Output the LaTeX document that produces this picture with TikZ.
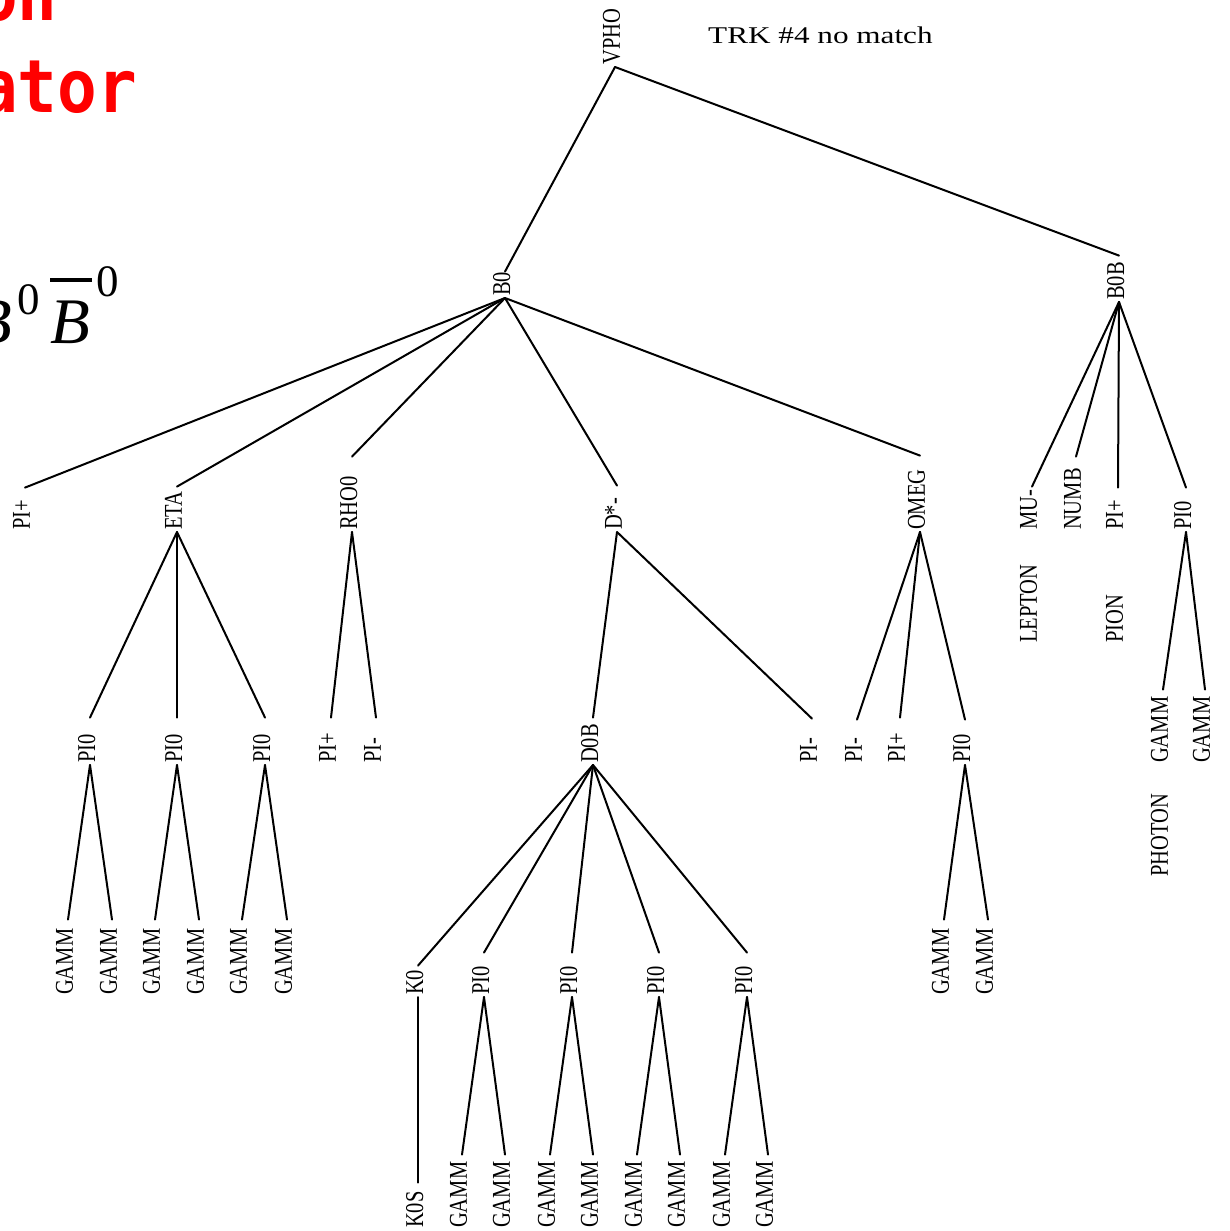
\documentclass[tikz,border=0pt]{standalone}
\usepackage{fontspec}
\setmainfont{Liberation Serif}
\newfontfamily\redfont{DejaVu Sans Mono}
\usepackage{graphicx}
\newcommand\lbl[1]{\rule[-7pt]{0pt}{17pt}\scalebox{1}[1.25]{#1}}
\tikzset{
  lab/.style={rotate=90, anchor=west, inner xsep=2pt, inner ysep=0pt,
    text width=#1, align=left, font=\fontsize{20.5}{24}\selectfont},
  edge/.style={line width=2pt, line cap=round},
  plain/.style={inner sep=0pt},
  redtxt/.style={plain, anchor=base west, text=red, font=\redfont\bfseries\fontsize{68}{68}\selectfont}
}
\begin{document}
\begin{tikzpicture}[x=1pt,y=-1pt]
\useasboundingbox (0,0) rectangle (1229,1231);
\fill[white] (0,0) rectangle (1229,1231);
\clip (0,0) rectangle (1229,1231);

% red partial title
\node[redtxt] (t1) at (-22,21) {\scalebox{0.97}[1.08]{on}};
\node[redtxt] (t2) at (-22,112) {\scalebox{0.97}[1.08]{ator}};

% B0 B0bar
\node[plain, anchor=base east, font=\fontsize{65}{65}\selectfont\itshape] (bA) at (12,343) {B};
\node[plain, anchor=base, font=\fontsize{45}{45}\selectfont] (sA) at (29,314) {0};
\node[plain, anchor=base west, font=\fontsize{65}{65}\selectfont\itshape] (bB) at (50,343) {B};
\draw[line width=3.5pt] (50,280) -- (92,280);
\node[plain, anchor=base, font=\fontsize{45}{45}\selectfont] (sB) at (107.5,296) {0};

% header text
\node[plain, anchor=base west, font=\fontsize{24}{28}\selectfont] (trk) at (708,44) {\scalebox{1.3}[1]{TRK \#4 no match}};

% tree nodes
\node[lab=56pt] (vpho) at (615,67) {\lbl{VPHO}};
\node[lab=22pt] (b0) at (505,298) {\lbl{B0}};
\node[lab=42pt] (b0b) at (1119,302) {\lbl{B0B}};

\node[lab=40pt] (pipA) at (25,532) {\lbl{PI+}};
\node[lab=41pt] (eta) at (177,532) {\lbl{ETA}};
\node[lab=71pt] (rho) at (352,532) {\lbl{RHO0}};
\node[lab=42pt] (dst) at (617,532) {\lbl{D*-}};
\node[lab=72pt] (omeg) at (920,532) {\lbl{OMEG}};
\node[lab=41pt] (mu) at (1032,532) {\lbl{MU-}};
\node[lab=71pt] (numb) at (1076,532) {\lbl{NUMB}};
\node[lab=40pt] (pipB) at (1118,532) {\lbl{PI+}};
\node[lab=40pt] (pizB) at (1186,532) {\lbl{PI0}};

\node[lab=80pt] (lepton) at (1032,645) {\lbl{LEPTON}};
\node[lab=80pt] (pion) at (1118,645) {\lbl{PION}};
\node[lab=90pt] (photon) at (1163,879) {\lbl{PHOTON}};

\node[lab=43pt] (pzA) at (90,765) {\lbl{PI0}};
\node[lab=43pt] (pzB) at (177,765) {\lbl{PI0}};
\node[lab=43pt] (pzC) at (265,765) {\lbl{PI0}};
\node[lab=43pt] (rpip) at (331,765) {\lbl{PI+}};
\node[lab=43pt] (rpim) at (376,765) {\lbl{PI-}};
\node[lab=43pt] (d0b) at (593,765) {\lbl{D0B}};
\node[lab=42pt] (dpim) at (812,765) {\lbl{PI-}};
\node[lab=41pt] (opim) at (857,765) {\lbl{PI-}};
\node[lab=43pt] (opip) at (900,765) {\lbl{PI+}};
\node[lab=41pt] (opiz) at (965,765) {\lbl{PI0}};
\node[lab=71pt] (bgA) at (1163,765) {\lbl{GAMM}};
\node[lab=71pt] (bgB) at (1205,765) {\lbl{GAMM}};

\node[lab=73pt] (gA) at (68,997) {\lbl{GAMM}};
\node[lab=73pt] (gB) at (112,997) {\lbl{GAMM}};
\node[lab=73pt] (gC) at (155,997) {\lbl{GAMM}};
\node[lab=73pt] (gD) at (199,997) {\lbl{GAMM}};
\node[lab=73pt] (gE) at (242,997) {\lbl{GAMM}};
\node[lab=73pt] (gF) at (287,997) {\lbl{GAMM}};
\node[lab=27pt] (k0) at (418,997) {\lbl{K0}};
\node[lab=40pt] (dzA) at (484,997) {\lbl{PI0}};
\node[lab=40pt] (dzB) at (572,997) {\lbl{PI0}};
\node[lab=40pt] (dzC) at (659,997) {\lbl{PI0}};
\node[lab=40pt] (dzD) at (747,997) {\lbl{PI0}};
\node[lab=73pt] (ogA) at (944,997) {\lbl{GAMM}};
\node[lab=73pt] (ogB) at (988,997) {\lbl{GAMM}};

\node[lab=43pt] (k0s) at (418,1230) {\lbl{K0S}};
\node[lab=71pt] (dgA) at (462,1230) {\lbl{GAMM}};
\node[lab=71pt] (dgB) at (505,1230) {\lbl{GAMM}};
\node[lab=71pt] (dgC) at (550,1230) {\lbl{GAMM}};
\node[lab=71pt] (dgD) at (593,1230) {\lbl{GAMM}};
\node[lab=71pt] (dgE) at (637,1230) {\lbl{GAMM}};
\node[lab=71pt] (dgF) at (680,1230) {\lbl{GAMM}};
\node[lab=71pt] (dgG) at (725,1230) {\lbl{GAMM}};
\node[lab=71pt] (dgH) at (768,1230) {\lbl{GAMM}};

\foreach \p/\c in {vpho/b0, vpho/b0b,
  b0/pipA, b0/eta, b0/rho, b0/dst, b0/omeg,
  b0b/mu, b0b/numb, b0b/pipB, b0b/pizB,
  eta/pzA, eta/pzB, eta/pzC, rho/rpip, rho/rpim,
  dst/d0b, dst/dpim, omeg/opim, omeg/opip, omeg/opiz,
  pizB/bgA, pizB/bgB,
  pzA/gA, pzA/gB, pzB/gC, pzB/gD, pzC/gE, pzC/gF,
  d0b/k0, d0b/dzA, d0b/dzB, d0b/dzC, d0b/dzD,
  opiz/ogA, opiz/ogB, k0/k0s,
  dzA/dgA, dzA/dgB, dzB/dgC, dzB/dgD, dzC/dgE, dzC/dgF, dzD/dgG, dzD/dgH}
  \draw[edge] (\p.west) -- (\c.east);
\end{tikzpicture}
\end{document}
